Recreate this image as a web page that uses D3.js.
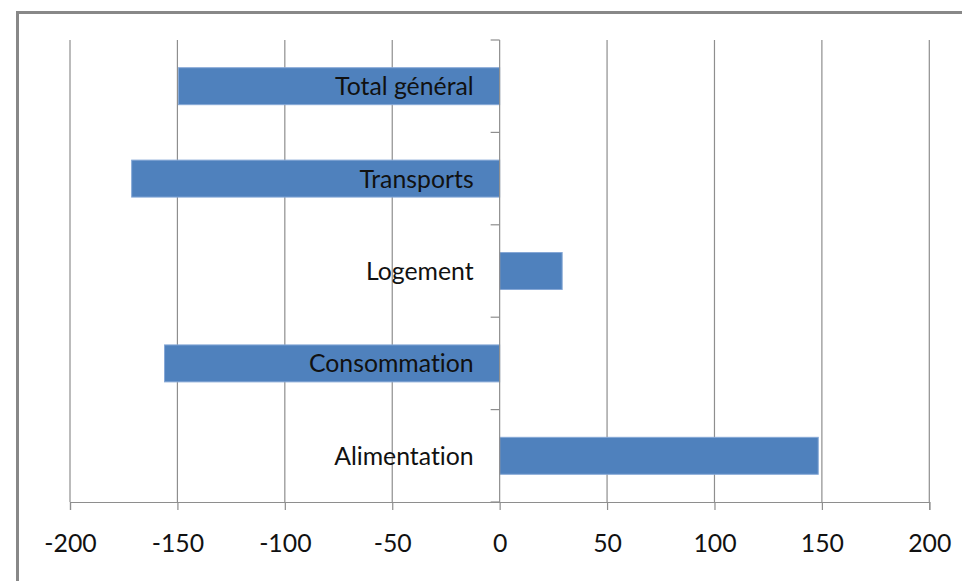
<!DOCTYPE html>
<html><head><meta charset="utf-8">
<script src="https://cdn.jsdelivr.net/npm/d3@7"></script>
<style>html,body{margin:0;padding:0;background:#fff;}svg{display:block;}
text{font-variant-ligatures:none;font-feature-settings:"liga" 0, "dlig" 0;}</style>
</head><body>
<svg id="chart" width="962" height="581"></svg>
<script>
const categories = ["Total général", "Transports", "Logement", "Consommation", "Alimentation"];
const values = [-149.5, -171.3, 29.1, -156, 148.3];
const xTicks = [-200, -150, -100, -50, 0, 50, 100, 150, 200];

(function () {
const svg = d3.select("#chart");
const pLeft = 70, pRight = 929.3, pTop = 40, pBottom = 502;
const fontFam = "Lato, 'Open Sans', sans-serif";
const fs = 24.8;

// outer frame (clipped at right/bottom like the reference)
svg.append("rect").attr("x", 17.5).attr("y", 12.5).attr("width", 1000).attr("height", 1000)
  .attr("fill", "#fff").attr("stroke", "#888").attr("stroke-width", 3);

const x = d3.scaleLinear().domain([-200, 200]).range([pLeft, pRight]);
const y = d3.scaleBand().domain(categories).range([pTop, pBottom]).paddingInner(0.6).paddingOuter(0.3);
const yb = d3.scaleBand().domain(categories).range([pTop, pBottom]);

// gridlines
svg.append("g").selectAll("line").data(xTicks.filter(d => d !== 0)).join("line")
  .attr("x1", d => x(d)).attr("x2", d => x(d)).attr("y1", pTop).attr("y2", pBottom)
  .attr("stroke", "#8e8e8e").attr("stroke-width", 1.2);

// bars
svg.append("g").selectAll("rect").data(categories).join("rect")
  .attr("x", (d, i) => x(Math.min(0, values[i])))
  .attr("width", (d, i) => Math.abs(x(values[i]) - x(0)))
  .attr("y", d => y(d)).attr("height", y.bandwidth())
  .attr("fill", "#4f81bd").attr("stroke", "#86a8d6").attr("stroke-width", 1);

// x axis
const xAxis = d3.axisBottom(x).tickValues(xTicks).tickFormat(d => String(d))
  .tickSize(8).tickPadding(24);
const gx = svg.append("g").attr("transform", `translate(0,${pBottom})`).call(xAxis);
gx.select(".domain").attr("stroke", "#8e8e8e").attr("stroke-width", 1.2);
gx.selectAll(".tick line").attr("stroke", "#8e8e8e").attr("stroke-width", 1.2);
gx.selectAll(".tick text").attr("font-family", fontFam).attr("font-size", fs).attr("fill", "#111");

// y axis at zero
const zeroX = x(0);
svg.append("line").attr("x1", zeroX).attr("x2", zeroX).attr("y1", pTop).attr("y2", pBottom)
  .attr("stroke", "#8e8e8e").attr("stroke-width", 1.2);
const bounds = categories.map(c => yb(c)).concat([pBottom]);
svg.append("g").selectAll("line").data(bounds).join("line")
  .attr("x1", zeroX - 9).attr("x2", zeroX).attr("y1", d => d).attr("y2", d => d)
  .attr("stroke", "#8e8e8e").attr("stroke-width", 1.2);

// category labels
svg.append("g").selectAll("text").data(categories).join("text")
  .attr("x", zeroX - 26).attr("y", d => y(d) + y.bandwidth() / 2)
  .attr("dy", "0.36em").attr("text-anchor", "end")
  .attr("font-family", fontFam).attr("font-size", fs).attr("fill", "#111")
  .style("font-variant-ligatures", "none")
  .text(d => d);
})();
</script>
</body></html>
